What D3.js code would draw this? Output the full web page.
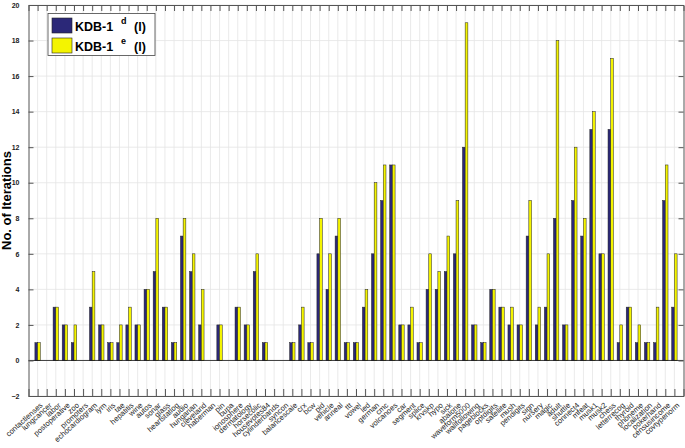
<!DOCTYPE html>
<html>
<head>
<meta charset="utf-8">
<script src="https://cdn.jsdelivr.net/npm/d3@7"></script>
<style>
  body { margin: 0; background: #fff; }
  text { font-family: "Liberation Sans", Arial, sans-serif; }
</style>
</head>
<body>
<svg id="chart" width="685" height="448"></svg>
<script>
// dataset names, in plot order
const datasets = ["contactlenses","lungcancer","labor","postoperative","zoo","promoters","echocardiogram",
  "lym","iris","tae","hepatitis","wine","autos","sonar","glass","heartstatlog","audio","hungarian",
  "cleveland","haberman","pin","bupa","ionosphere","dermatology","horsecolic","housevotes84",
  "cylinderbands","syncon","balancescale","crx","bcw","pid","vehicle","anneal","ttt","vowel","led",
  "german","cmc","volcanoes","car","segment","splice","krvskp","hypo","sick","abalone","waveform5000",
  "wallfollowing","pageblocks","optdigits","satellite","mush","pendigits","sign","nursery","magic",
  "adult","shuttle","connect4","mfeat","musk1","musk2","chess","letterrecog","thyroid","phoneme",
  "localization","pokerhand","censusincome","covtypenorm"];

// iterations, KDB-1 d (l)
const kdbD = [1,0,3,2,1,0,3, 2,1,1,2,2,4,5,3,1,7,5, 2,0,2,0,3,2,5,1, 0,0,1,2,1,6,4,7,1,1,3,
  6,9,11,2,2,1,4,4,5,6,12, 2,1,4,3,2,2,7,2,3, 8,2,9,7,13,6,13,1,3,1, 1,1,9,3];
// iterations, KDB-1 e (l)
const kdbE = [1,0,3,2,2,0,5, 2,1,2,3,2,4,8,3,1,8,6, 4,0,2,0,3,2,6,1, 0,0,1,3,1,8,6,8,1,1,4,
  10,11,11,2,3,1,6,5,7,9,19, 2,1,4,3,3,2,9,3,6, 18,2,12,8,14,6,17,2,3,2, 1,3,11,6];

const yTicks = d3.range(-2, 21, 2);

const svg = d3.select("#chart");
const mLeft = 28.5, mRight = 683.5, mTop = 5, mBottom = 396;

let x = d3.scaleLinear().domain([0, datasets.length + 1]).range([mLeft, mRight]);
let y = d3.scaleLinear().domain([-2, 20]).range([mBottom, mTop]);

// grid
let grid = svg.append("g").attr("stroke", "#e4e4e4").attr("stroke-width", 0.8);
grid.selectAll("line.v").data(datasets).enter().append("line")
    .attr("x1", (d,i) => x(i+1)).attr("x2", (d,i) => x(i+1))
    .attr("y1", mTop).attr("y2", mBottom);
grid.selectAll("line.h").data(yTicks).enter().append("line")
    .attr("x1", mLeft).attr("x2", mRight)
    .attr("y1", d => y(d)).attr("y2", d => y(d));

// bars
const bw = 2.7;
let bars = svg.append("g").attr("stroke", "#222").attr("stroke-width", 0.5);
bars.selectAll("rect.d").data(kdbD).enter().append("rect")
    .attr("x", (d,i) => x(i+1) - bw)
    .attr("width", bw)
    .attr("y", d => y(d)).attr("height", d => y(0) - y(d))
    .attr("fill", "#2b2878");
bars.selectAll("rect.e").data(kdbE).enter().append("rect")
    .attr("x", (d,i) => x(i+1))
    .attr("width", bw)
    .attr("y", d => y(d)).attr("height", d => y(0) - y(d))
    .attr("fill", "#f4f400");

// baseline at zero
svg.append("line").attr("x1", mLeft).attr("x2", mRight)
    .attr("y1", y(0)).attr("y2", y(0))
    .attr("stroke", "#111").attr("stroke-width", 0.8);

// axes
svg.append("g").attr("transform", "translate(0," + mBottom + ")")
    .call(d3.axisBottom(x).tickValues(d3.range(1, datasets.length + 1))
        .tickSize(-7).tickFormat(""))
    .call(g => g.select(".domain").attr("stroke", "#555"));
svg.append("g").attr("transform", "translate(0," + mTop + ")")
    .call(d3.axisTop(x).tickValues(d3.range(1, datasets.length + 1))
        .tickSize(-6).tickFormat(""))
    .call(g => g.select(".domain").attr("stroke", "#555"));
svg.append("g").attr("transform", "translate(" + mLeft + ",0)")
    .call(d3.axisLeft(y).tickValues(yTicks).tickSize(-5).tickPadding(9))
    .call(g => g.select(".domain").attr("stroke", "#555"))
    .call(g => g.selectAll("text").attr("font-size", 7).attr("font-weight", "bold").attr("fill", "#222"));
svg.append("g").attr("transform", "translate(" + mRight + ",0)")
    .call(d3.axisRight(y).tickValues(yTicks).tickSize(-5).tickFormat(""))
    .call(g => g.select(".domain").attr("stroke", "#555"));
svg.selectAll(".tick line").attr("stroke", "#555");

// rotated category labels
svg.append("g").selectAll("text").data(datasets).enter().append("text")
    .attr("transform", (d,i) => "translate(" + (x(i+1) + 2) + "," + (mBottom + 6) + ") rotate(-42)")
    .attr("text-anchor", "end")
    .attr("dy", "0.7em")
    .attr("font-size", 7.6)
    .attr("fill", "#222")
    .text(d => d);

// y title
svg.append("text")
    .attr("transform", "translate(11," + ((mTop + mBottom) / 2) + ") rotate(-90)")
    .attr("text-anchor", "middle")
    .attr("font-size", 13).attr("font-weight", "bold")
    .text("No. of Iterations");

// legend
let legend = svg.append("g");
legend.append("rect").attr("x", 48).attr("y", 13.5).attr("width", 107).attr("height", 42)
    .attr("fill", "#fff").attr("stroke", "#444").attr("stroke-width", 0.8);
const legendItems = [{sup: "d", fill: "#2b2878"}, {sup: "e", fill: "#f4f400"}];
legendItems.forEach((it, i) => {
    let yy = 18 + i * 20;
    legend.append("rect").attr("x", 52).attr("y", yy).attr("width", 20).attr("height", 15)
        .attr("fill", it.fill).attr("stroke", "#222").attr("stroke-width", 0.6);
    legend.append("text").attr("x", 75).attr("y", yy + 12.5)
        .attr("font-size", 12.5).attr("font-weight", "bold").text("KDB-1");
    legend.append("text").attr("x", 121).attr("y", yy + 6)
        .attr("font-size", 9).attr("font-weight", "bold").text(it.sup);
    legend.append("text").attr("x", 134).attr("y", yy + 12.5)
        .attr("font-size", 12.5).attr("font-weight", "bold").text("(l)");
});
</script>
</body>
</html>
